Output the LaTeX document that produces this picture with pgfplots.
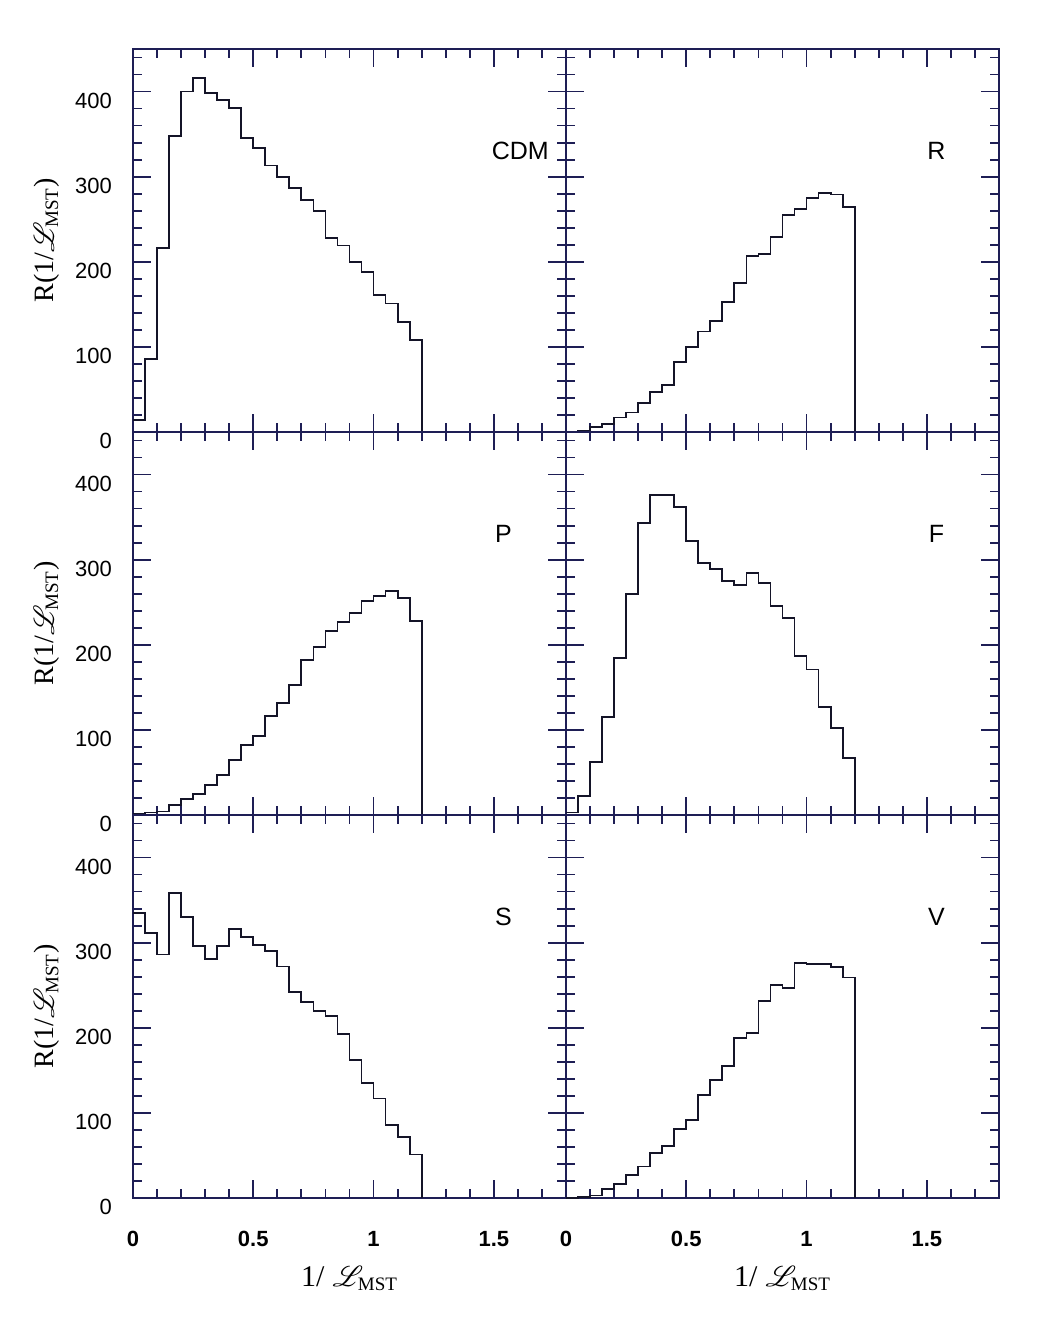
\documentclass[border=0pt]{standalone}
\usepackage{pgfplots}
\pgfplotsset{compat=1.18}
\usepackage{fontspec}
\setmainfont{Liberation Serif}
\newfontfamily\hv{Liberation Sans}
\usepackage{mathrsfs}

\definecolor{axcol}{RGB}{30,30,85}
\definecolor{lncol}{RGB}{20,20,40}

\newcommand{\Lmst}{$\mathscr{L}_{\mbox{\fontsize{9.5}{10}\selectfont MST}}$}

\pgfplotsset{
 panel/.style={
   scale only axis, width=216.5pt, height=191.5pt,
   xmin=0, xmax=1.8, ymin=0, ymax=450,
   xtick={0,0.5,1,1.5},
   minor xtick={0.1,0.2,0.3,0.4,0.6,0.7,0.8,0.9,1.1,1.2,1.3,1.4,1.6,1.7},
   ytick={0,100,200,300,400},
   minor ytick={20,40,60,80,120,140,160,180,220,240,260,280,320,340,360,380,420,440},
   tick align=inside, major tick length=9pt, minor tick length=4.5pt,
   axis line style={axcol, line width=1pt},
   tick style={axcol, line width=0.9pt},
   xticklabels={}, yticklabels={},
   /pgf/number format/assume math mode=true,
   anchor=south west,
 },
 leftcol/.style={
   yticklabels={0,100,200,300,400},
   yticklabel style={font=\hv\fontsize{11}{12}\selectfont, xshift=-7pt, yshift=-4.5pt},
   ylabel={R(1/\Lmst)},
   every axis y label/.style={at={(axis description cs:-0.199,0.5)}, rotate=90, anchor=center, font=\fontsize{14}{16}\selectfont},
 },
 bottomrow/.style={
   xticklabels={0,0.5,1,1.5},
   xticklabel style={font=\hv\bfseries\fontsize{11}{12}\selectfont, yshift=-13pt},
   xlabel={1/\;\Lmst},
   every axis x label/.style={at={(axis description cs:0.5,-0.211)}, anchor=center, font=\fontsize{15}{17}\selectfont},
 },
 hist/.style={const plot, lncol, line width=0.9pt, mark=none},
}

\begin{document}
\begin{tikzpicture}
\useasboundingbox (0,0) rectangle (528pt,668.5pt);

% Row 1 left: CDM
\begin{axis}[panel, leftcol, at={(66.5pt,452.5pt)}]
\addplot[hist] coordinates {(0,14) (0.05,86) (0.1,216) (0.15,348) (0.2,400) (0.25,416) (0.3,398) (0.35,390) (0.4,381) (0.45,345) (0.5,334) (0.55,313) (0.6,300) (0.65,287) (0.7,273) (0.75,260) (0.8,228) (0.85,219) (0.9,200) (0.95,188) (1.0,161) (1.05,151) (1.1,129) (1.15,108) (1.2,0)};
\node[font=\hv\fontsize{12.5}{14}\selectfont] at (axis cs:1.61,330) {CDM};
\end{axis}

% Row 1 right: R
\begin{axis}[panel, at={(283pt,452.5pt)}]
\addplot[hist] coordinates {(0,0) (0.05,1) (0.1,6) (0.15,9) (0.2,17) (0.25,23) (0.3,34) (0.35,47) (0.4,55) (0.45,82) (0.5,100) (0.55,118) (0.6,130) (0.65,153) (0.7,175) (0.75,207) (0.8,209) (0.85,229) (0.9,255) (0.95,262) (1.0,275) (1.05,281) (1.1,279) (1.15,264) (1.2,0)};
\node[font=\hv\fontsize{12.5}{14}\selectfont] at (axis cs:1.54,330) {R};
\end{axis}

% Row 2 left: P
\begin{axis}[panel, leftcol, at={(66.5pt,261pt)}]
\addplot[hist] coordinates {(0,1) (0.05,3) (0.1,4) (0.15,12) (0.2,19) (0.25,25) (0.3,35) (0.35,47) (0.4,65) (0.45,82) (0.5,93) (0.55,116) (0.6,132) (0.65,153) (0.7,182) (0.75,197) (0.8,216) (0.85,227) (0.9,237) (0.95,251) (1.0,257) (1.05,263) (1.1,255) (1.15,228) (1.2,0)};
\node[font=\hv\fontsize{12.5}{14}\selectfont] at (axis cs:1.54,330) {P};
\end{axis}

% Row 2 right: F
\begin{axis}[panel, at={(283pt,261pt)}]
\addplot[hist] coordinates {(0,3) (0.05,22) (0.1,62) (0.15,115) (0.2,184) (0.25,260) (0.3,343) (0.35,376) (0.4,376) (0.45,362) (0.5,322) (0.55,296) (0.6,289) (0.65,275) (0.7,270) (0.75,284) (0.8,273) (0.85,246) (0.9,231) (0.95,187) (1.0,171) (1.05,127) (1.1,102) (1.15,67) (1.2,0)};
\node[font=\hv\fontsize{12.5}{14}\selectfont] at (axis cs:1.54,330) {F};
\end{axis}

% Row 3 left: S
\begin{axis}[panel, leftcol, bottomrow, at={(66.5pt,69.5pt)}]
\addplot[hist] coordinates {(0,335) (0.05,311) (0.1,286) (0.15,358) (0.2,330) (0.25,296) (0.3,281) (0.35,296) (0.4,316) (0.45,307) (0.5,297) (0.55,290) (0.6,272) (0.65,242) (0.7,230) (0.75,220) (0.8,214) (0.85,193) (0.9,162) (0.95,135) (1.0,117) (1.05,86) (1.1,72) (1.15,51) (1.2,0)};
\node[font=\hv\fontsize{12.5}{14}\selectfont] at (axis cs:1.54,330) {S};
\end{axis}

% Row 3 right: V
\begin{axis}[panel, bottomrow, at={(283pt,69.5pt)}]
\addplot[hist] coordinates {(0,0) (0.05,1) (0.1,3) (0.15,11) (0.2,16) (0.25,27) (0.3,37) (0.35,53) (0.4,61) (0.45,81) (0.5,92) (0.55,121) (0.6,139) (0.65,155) (0.7,188) (0.75,194) (0.8,231) (0.85,250) (0.9,247) (0.95,276) (1.0,275) (1.05,275) (1.1,271) (1.15,259) (1.2,0)};
\node[font=\hv\fontsize{12.5}{14}\selectfont] at (axis cs:1.54,330) {V};
\end{axis}
\end{tikzpicture}
\end{document}
